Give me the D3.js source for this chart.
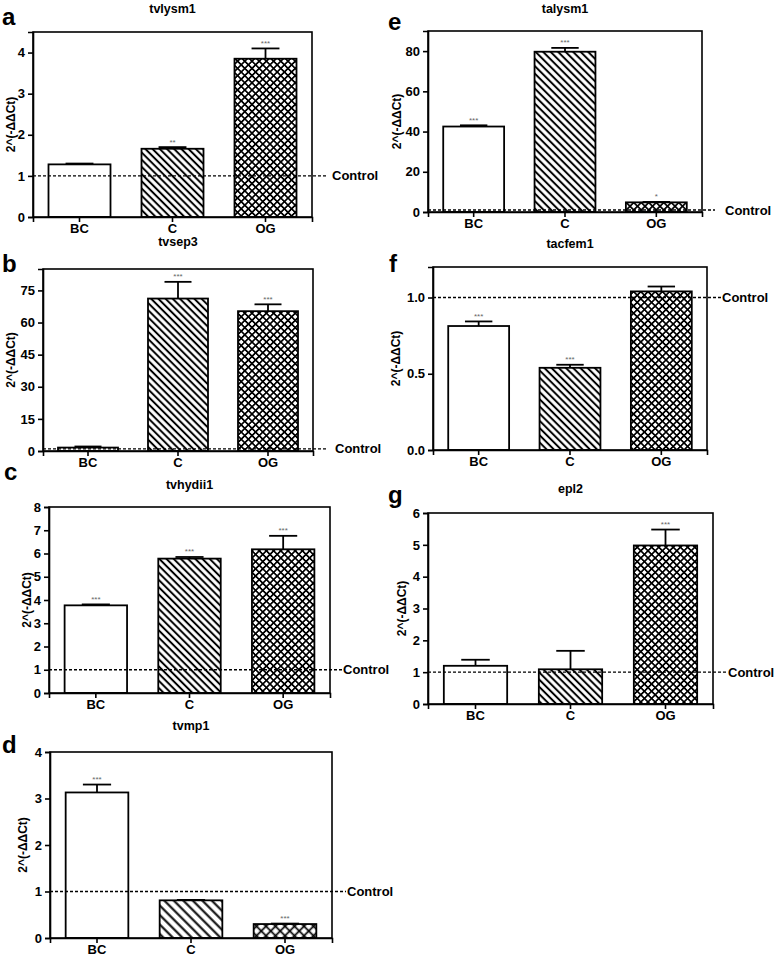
<!DOCTYPE html>
<html><head><meta charset="utf-8">
<script src="https://cdn.jsdelivr.net/npm/d3@7"></script>
<style>body{margin:0;background:#fff}svg{display:block}</style>
</head><body>
<svg id="chart" width="778" height="957"></svg>
<script>
// ---------- data ----------
const categories = ["BC", "C", "OG"];
const panelLetters = ["a", "b", "c", "d", "e", "f", "g"];
const geneTitles = ["tvlysm1", "tvsep3", "tvhydii1", "tvmp1", "talysm1", "tacfem1", "epl2"];
const yAxisLabel = "2^(-ΔΔCt)";
const controlLabel = "Control";
const controlValue = 1;

const meansA = [1.28, 1.66, 3.85];
const errorsA = [0.02, 0.04, 0.25];
const starsA = ["", "**", "***"];
const ticksA = [0, 1, 2, 3, 4];
const maxA = 4.5;

const meansB = [1.6, 71.2, 65.3];
const errorsB = [0.5, 7.8, 3.2];
const starsB = ["", "***", "***"];
const ticksB = [0, 15, 30, 45, 60, 75];
const maxB = 85;

const meansC = [3.77, 5.78, 6.18];
const errorsC = [0.04, 0.07, 0.58];
const starsC = ["***", "***", "***"];
const ticksC = [0, 1, 2, 3, 4, 5, 6, 7, 8];
const maxC = 8;

const meansD = [3.13, 0.81, 0.30];
const errorsD = [0.17, 0.01, 0.01];
const starsD = ["***", "", "***"];
const ticksD = [0, 1, 2, 3, 4];
const maxD = 4;

const meansE = [42.5, 79.7, 4.8];
const errorsE = [0.6, 1.9, 0.2];
const starsE = ["***", "***", "*"];
const ticksE = [0, 20, 40, 60, 80];
const maxE = 90;

const meansF = [0.813, 0.539, 1.04];
const errorsF = [0.03, 0.02, 0.032];
const starsF = ["***", "***", ""];
const ticksF = [0, 0.5, 1.0];
const maxF = 1.2;

const meansG = [1.2, 1.09, 4.98];
const errorsG = [0.19, 0.58, 0.5];
const starsG = ["", "", "***"];
const ticksG = [0, 1, 2, 3, 4, 5, 6];
const maxG = 6;

// ---------- layout (positions only) ----------
const layouts = [
  {l:33,  r:312, t:32,  b:217, titleY:13,  lx:2,   ly:25,  ylx:11,  ctrlX:332, dashEnd:326, pat:7.2, fmt:"d"},
  {l:43,  r:313, t:269, b:451, titleY:246, lx:2,   ly:272, ylx:11,  ctrlX:335, dashEnd:326, pat:7.2, fmt:"d"},
  {l:49,  r:330, t:507, b:693, titleY:489, lx:4,   ly:480, ylx:27,  ctrlX:343, dashEnd:343, pat:7.2, fmt:"d"},
  {l:50,  r:332, t:752, b:938, titleY:730, lx:2,   ly:753, ylx:23,  ctrlX:347, dashEnd:346, pat:9.5, fmt:"d"},
  {l:428, r:702, t:31,  b:212, titleY:13,  lx:388, ly:30,  ylx:397, ctrlX:725, dashEnd:715, pat:7.5, fmt:"d"},
  {l:433, r:707, t:267, b:450, titleY:248, lx:389, ly:272, ylx:396, ctrlX:722, dashEnd:721, pat:7.2, fmt:".1f"},
  {l:428, r:713, t:513, b:704, titleY:493, lx:388, ly:503, ylx:402, ctrlX:728, dashEnd:727, pat:7.2, fmt:"d"}
];

const panelMeans = [meansA, meansB, meansC, meansD, meansE, meansF, meansG];
const panelErrors = [errorsA, errorsB, errorsC, errorsD, errorsE, errorsF, errorsG];
const panelStars = [starsA, starsB, starsC, starsD, starsE, starsF, starsG];
const panelTicks = [ticksA, ticksB, ticksC, ticksD, ticksE, ticksF, ticksG];
const panelMax = [maxA, maxB, maxC, maxD, maxE, maxF, maxG];

const FONT = "'Liberation Sans', Arial, Helvetica, sans-serif";
const svg = d3.select("#chart").style("font-family", FONT);
const defs = svg.append("defs");

function makePatterns(i, hs) {
  const s = hs / Math.SQRT2;
  const p1 = defs.append("pattern").attr("id", "diag" + i)
    .attr("patternUnits", "userSpaceOnUse").attr("width", s).attr("height", s)
    .attr("patternTransform", "rotate(45)");
  p1.append("rect").attr("width", s).attr("height", s).attr("fill", "#fff");
  p1.append("rect").attr("x", 0).attr("y", s / 2 - 1).attr("width", s).attr("height", 2)
    .attr("fill", "#000");
  const p2 = defs.append("pattern").attr("id", "cross" + i)
    .attr("patternUnits", "userSpaceOnUse").attr("width", s).attr("height", s)
    .attr("patternTransform", "rotate(45)");
  p2.append("rect").attr("width", s).attr("height", s).attr("fill", "#fff");
  p2.append("rect").attr("x", 0).attr("y", s / 2 - 0.85).attr("width", s).attr("height", 1.7)
    .attr("fill", "#000");
  p2.append("rect").attr("y", 0).attr("x", s / 2 - 0.85).attr("height", s).attr("width", 1.7)
    .attr("fill", "#000");
}

layouts.forEach((L, i) => {
  makePatterns(i, L.pat);
  const fills = ["#fff", `url(#diag${i})`, `url(#cross${i})`];
  const g = svg.append("g");
  const x = d3.scaleBand().domain(categories).range([L.l, L.r])
    .paddingInner(1 / 3).paddingOuter(1 / 6);
  const y = d3.scaleLinear().domain([0, panelMax[i]]).range([L.b, L.t]);
  const rows = categories.map((c, k) => ({c, m: panelMeans[i][k], e: panelErrors[i][k], s: panelStars[i][k], f: fills[k]}));

  // bars
  g.selectAll("rect.bar").data(rows).join("rect").attr("class", "bar")
    .attr("x", d => x(d.c)).attr("width", x.bandwidth())
    .attr("y", d => y(d.m)).attr("height", d => y(0) - y(d.m))
    .attr("fill", d => d.f).attr("stroke", "#000").attr("stroke-width", 1.8);

  // error bars
  const capW = x.bandwidth() * 0.45;
  g.selectAll("line.err").data(rows).join("line").attr("class", "err")
    .attr("x1", d => x(d.c) + x.bandwidth() / 2).attr("x2", d => x(d.c) + x.bandwidth() / 2)
    .attr("y1", d => y(d.m)).attr("y2", d => y(d.m + d.e))
    .attr("stroke", "#000").attr("stroke-width", 1.8);
  g.selectAll("line.cap").data(rows).join("line").attr("class", "cap")
    .attr("x1", d => x(d.c) + x.bandwidth() / 2 - capW / 2).attr("x2", d => x(d.c) + x.bandwidth() / 2 + capW / 2)
    .attr("y1", d => y(d.m + d.e)).attr("y2", d => y(d.m + d.e))
    .attr("stroke", "#000").attr("stroke-width", 1.8);

  // stars
  g.selectAll("text.star").data(rows.filter(d => d.s)).join("text").attr("class", "star")
    .attr("x", d => x(d.c) + x.bandwidth() / 2).attr("y", d => y(d.m + d.e) - 2.5)
    .attr("text-anchor", "middle").attr("font-size", 8).attr("fill", "#666")
    .text(d => d.s);

  // frame
  g.append("rect").attr("x", L.l).attr("y", L.t).attr("width", L.r - L.l).attr("height", L.b - L.t)
    .attr("fill", "none").attr("stroke", "#000").attr("stroke-width", 1.6);

  // axes
  const yAxis = d3.axisLeft(y).tickValues(panelTicks[i]).tickSize(5).tickPadding(3)
    .tickFormat(d3.format(L.fmt));
  const ya = g.append("g").attr("transform", `translate(${L.l},0)`).call(yAxis);
  const xAxis = d3.axisBottom(x).tickSize(5).tickPadding(2);
  const xa = g.append("g").attr("transform", `translate(0,${L.b})`).call(xAxis);
  [ya, xa].forEach(a => {
    a.select(".domain").attr("stroke", "#000").attr("stroke-width", 1.6);
    a.selectAll(".tick line").attr("stroke", "#000").attr("stroke-width", 1.6);
    a.selectAll(".tick text").attr("fill", "#000").attr("font-size", 13)
      .attr("font-weight", "bold").attr("font-family", FONT);
  });

  // control line
  g.append("line").attr("x1", L.l).attr("x2", L.dashEnd)
    .attr("y1", y(controlValue)).attr("y2", y(controlValue))
    .attr("stroke", "#000").attr("stroke-width", 1.3).attr("stroke-dasharray", "3,2");
  g.append("text").attr("x", L.ctrlX).attr("y", y(controlValue)).attr("dy", "0.35em")
    .attr("font-size", 13).attr("font-weight", "bold").text(controlLabel);

  // title
  g.append("text").attr("x", (L.l + L.r) / 2).attr("y", L.titleY).attr("text-anchor", "middle")
    .attr("font-size", 12.5).attr("font-weight", "bold").text(geneTitles[i]);
  // panel letter
  g.append("text").attr("x", L.lx).attr("y", L.ly)
    .attr("font-size", 24).attr("font-weight", "bold").text(panelLetters[i]);
  // y label
  g.append("text").attr("transform", `translate(${L.ylx},${(L.t + L.b) / 2}) rotate(-90)`)
    .attr("dy", "0.35em").attr("text-anchor", "middle")
    .attr("font-size", 12).attr("font-weight", "bold").text(yAxisLabel);
});
</script>
</body></html>
